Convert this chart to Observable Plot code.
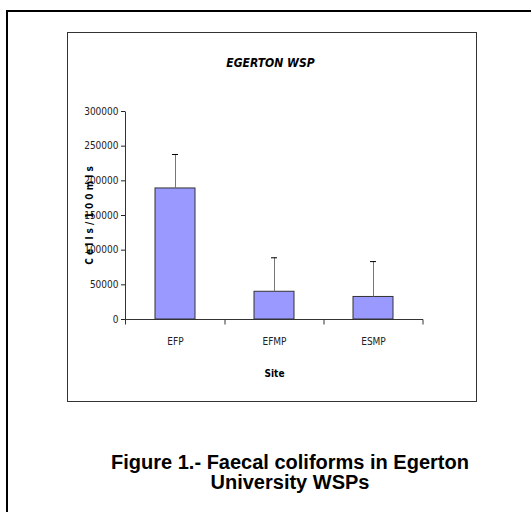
<!DOCTYPE html>
<html><head><meta charset="utf-8">
<script src="https://cdn.jsdelivr.net/npm/d3@7"></script>
<script src="https://cdn.jsdelivr.net/npm/@observablehq/plot@0.6"></script>
<style>
html,body{margin:0;padding:0;width:531px;height:512px;overflow:hidden;background:#fff;}
#outer{position:absolute;left:6px;top:10px;width:570px;height:600px;border:2px solid #000;box-sizing:border-box;}
#inner{position:absolute;left:67px;top:32px;width:410px;height:370px;border:1px solid #333;box-sizing:border-box;}
#chart{position:absolute;left:0;top:0;}
#chart svg{font-stretch:condensed;}
#caption{position:absolute;left:8px;width:564px;top:452px;text-align:center;font:bold 20px/20px "Liberation Sans", Arial, sans-serif;color:#000;}
</style></head><body>
<div id="outer"></div><div id="inner"></div><div id="chart"></div>
<div id="caption">Figure 1.- Faecal coliforms in Egerton<br>University WSPs</div>
<script>
const sites = ["EFP", "EFMP", "ESMP"];
const means = [189000, 40000, 32500];
const errors = [49000, 49000, 51000];
const yTicks = [0, 50000, 100000, 150000, 200000, 250000, 300000];
const yMax = 300000;
const chartTitle = "EGERTON WSP";
const xLabel = "Site";
const yLabel = "C e l l s / 1 0 0 m l s";

const data = sites.map((s, i) => ({site: s, mean: means[i], upper: means[i] + errors[i]}));
const FONT = "'DejaVu Sans', sans-serif";

function axisLines(index, scales, values, dims) {
  const x = scales.x, y = scales.y;
  const left = dims.marginLeft;
  const y0 = y(0), yTop = y(yMax);
  const g = d3.create("svg:g").attr("stroke", "#333").attr("fill", "none").attr("transform", "translate(0.5,0.5)");
  g.append("line").attr("x1", left).attr("x2", left).attr("y1", yTop).attr("y2", y0 + 5);
  const step = x.step();
  sites.forEach(s => {
    const e = x(s) + x.bandwidth() / 2 + step / 2;
    g.append("line").attr("x1", e).attr("x2", e).attr("y1", y0).attr("y2", y0 + 5);
  });
  return g.node();
}

const chart = Plot.plot({
  width: 531, height: 512,
  marginLeft: 125, marginRight: 108, marginTop: 111, marginBottom: 193,
  style: {background: "none", fontFamily: FONT, fontSize: "10px", color: "#222"},
  x: {domain: sites, paddingInner: 0.6, paddingOuter: 0.3, tickSize: 0, tickPadding: 18, label: null},
  y: {domain: [0, yMax], ticks: yTicks, tickFormat: d3.format("d"), tickSize: 4, tickPadding: 3, label: null},
  marks: [
    Plot.barY(data, {x: "site", y: "mean", fill: "#9999ff", stroke: "#333", strokeWidth: 1}),
    Plot.ruleX(data, {x: "site", y1: "mean", y2: "upper", stroke: "#777"}),
    Plot.tickY(data, {x: "site", y: "upper", stroke: "#000", insetLeft: 17, insetRight: 17}),
    Plot.ruleY([0], {stroke: "#333"}),
    axisLines,
    Plot.text([xLabel], {text: d => d, frameAnchor: "bottom", lineAnchor: "middle", dy: 54, fontWeight: "bold", fontSize: 10, fill: "#000"}),
    Plot.text([yLabel], {text: d => d, frameAnchor: "left", textAnchor: "middle", lineAnchor: "middle", rotate: -90, dx: -36, fontWeight: "bold", fontSize: 10, fill: "#000"}),
    Plot.text([chartTitle], {text: d => d, frameAnchor: "top", lineAnchor: "middle", dy: -48, dx: -4, fontWeight: "bold", fontStyle: "italic", fontSize: 12, fill: "#000"})
  ]
});
document.getElementById("chart").appendChild(chart);
</script>
</body></html>
